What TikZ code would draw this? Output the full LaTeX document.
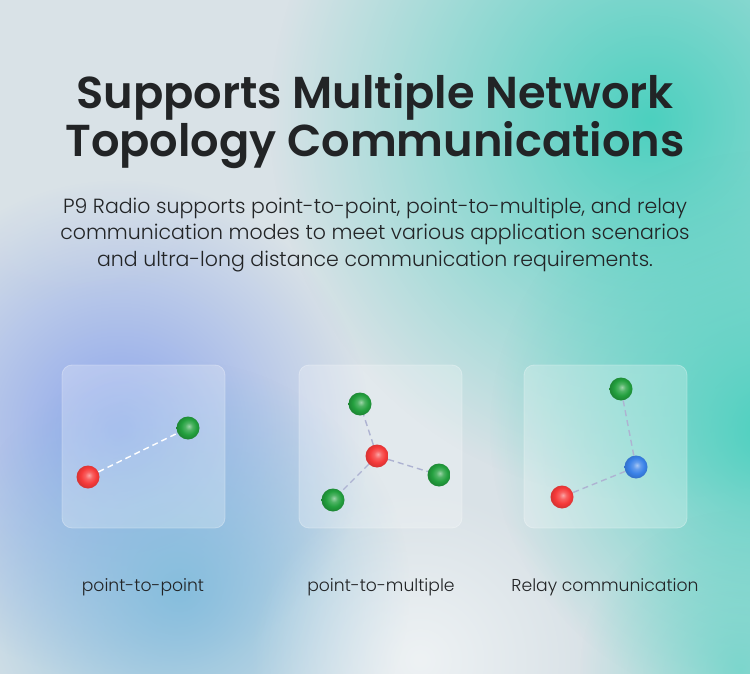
\documentclass[tikz,border=0pt]{standalone}
\usepackage{fontspec}
\IfFontExistsTF{Poppins Light}{\setmainfont{Poppins Light}[BoldFont={Poppins SemiBold}]}{\setmainfont{Poppins}}
\usetikzlibrary{fadings}
\definecolor{ink}{HTML}{222426}
\definecolor{basebg}{HTML}{D9E2E7}
\definecolor{teal}{HTML}{4CD0BF}
\definecolor{glowblue}{HTML}{8CA5EC}
\definecolor{skyblue}{HTML}{86BEDD}
\definecolor{redball}{HTML}{F63A3A}
\definecolor{greenball}{HTML}{23A03E}
\definecolor{blueball}{HTML}{3A82E8}
\definecolor{linkgray}{HTML}{AEB3D2}
\tikzfading[name=glow, inner color=transparent!0, outer color=transparent!100]
\pgfdeclareradialshading{redshine}{\pgfpoint{2bp}{4bp}}{color(0bp)=(redball!45!white); color(8bp)=(redball!80!white); color(17bp)=(redball); color(25bp)=(redball!88!black); color(50bp)=(redball!88!black)}
\pgfdeclareradialshading{greenshine}{\pgfpoint{2bp}{4bp}}{color(0bp)=(greenball!45!white); color(8bp)=(greenball!80!white); color(17bp)=(greenball); color(25bp)=(greenball!85!black); color(50bp)=(greenball!85!black)}
\pgfdeclareradialshading{blueshine}{\pgfpoint{2bp}{4bp}}{color(0bp)=(blueball!45!white); color(8bp)=(blueball!80!white); color(17bp)=(blueball); color(25bp)=(blueball!88!black); color(50bp)=(blueball!88!black)}
\begin{document}
\begin{tikzpicture}[x=1pt,y=-1pt,
	panel/.style={draw=white, draw opacity=0.3, fill=white, fill opacity=0.25, rounded corners=10pt, line width=0.8pt},
	ball/.style={circle, minimum size=23pt, inner sep=0pt, shading=#1},
	link/.style={draw=#1, line width=1.4pt, dash pattern=on 6pt off 4pt},
	caption/.style={font=\fontsize{17.2}{20}\selectfont, text=ink}]
\useasboundingbox (0,0) rectangle (750,674);
% background
\fill[basebg] (0,0) rectangle (750,674);
\begin{scope}
\clip (0,0) rectangle (750,674);
\fill[teal, path fading=glow] (650,120) circle (380);
\fill[teal, path fading=glow] (770,430) circle (280);
\fill[teal, opacity=0.6, path fading=glow] (740,670) circle (160);
\fill[glowblue, path fading=glow] (120,430) circle (250);
\fill[skyblue, path fading=glow] (180,590) circle (230);
\fill[white, opacity=0.55, path fading=glow] (420,660) circle (170);
\fill[basebg, opacity=0.6, path fading=glow] (60,40) circle (260);
\end{scope}
% heading
\node[font=\fontsize{44.7}{45}\selectfont\bfseries, text=ink, align=center] (title) at (375,121) {Supports Multiple Network\\Topology Communications};
\node[font=\fontsize{20.5}{26.5}\selectfont, text=ink, align=center] (intro) at (375,235) {P9 Radio supports point-to-point, point-to-multiple, and relay\\communication modes to meet various application scenarios\\and ultra-long distance communication requirements.};
% panels
\foreach \x in {62,299,524}
{
	\draw[panel] (\x,365) rectangle (\x+163,528);
}
% point-to-point
\node[ball=greenshine] (ptpB) at (188,428) {};
\node[ball=redshine] (ptpA) at (88,477) {};
\draw[link=white] (ptpA) -- (ptpB);
\node[caption] (capA) at (143,587) {point-to-point};
% point-to-multiple
\node[ball=redshine] (pmC) at (377,456) {};
\node[ball=greenshine] (pmN) at (360,404) {};
\node[ball=greenshine] (pmE) at (439,475) {};
\node[ball=greenshine] (pmS) at (333,500) {};
\foreach \n in {pmN,pmE,pmS}
{
	\draw[link=linkgray] (pmC) -- (\n);
}
\node[caption] (capB) at (381,587) {point-to-multiple};
% relay
\node[ball=greenshine] (rlT) at (621,389) {};
\node[ball=blueshine] (rlM) at (636,467) {};
\node[ball=redshine] (rlS) at (562,497) {};
\draw[link=linkgray] (rlT) -- (rlM);
\draw[link=linkgray] (rlM) -- (rlS);
\node[caption] (capC) at (605,587) {Relay communication};
\end{tikzpicture}
\end{document}
